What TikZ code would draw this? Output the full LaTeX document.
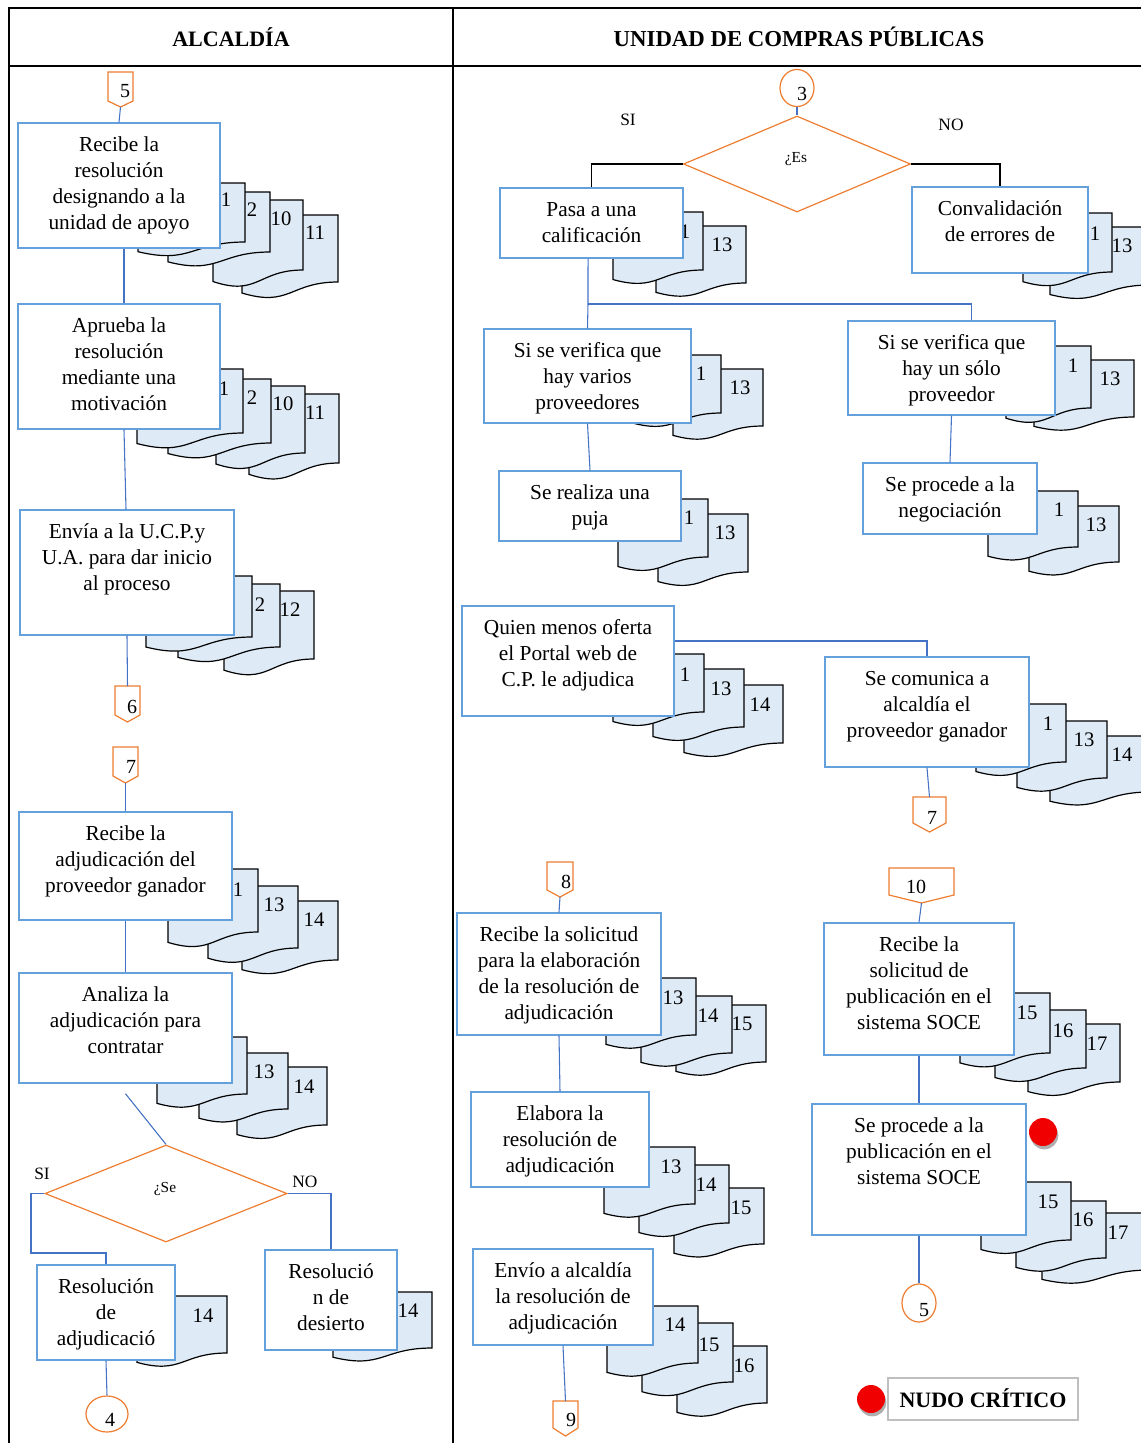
\documentclass[tikz,border=0pt]{standalone}
\usepackage{fontspec}
\setmainfont{Liberation Serif}
\usetikzlibrary{fit,shapes.geometric,shadows,calc}
\definecolor{boxblue}{RGB}{100,160,220}
\definecolor{lineblue}{RGB}{68,114,196}
\definecolor{orng}{RGB}{237,125,49}
\definecolor{docfill}{RGB}{222,234,246}
\definecolor{leggray}{RGB}{191,191,191}
\definecolor{dotred}{RGB}{240,0,0}
\newcounter{dcnt}
\tikzset{
  tbl/.style={line width=1.8pt, black},
  pbx/.style={draw=boxblue, fill=white, line width=1.1pt, inner sep=0pt},
  ptxt/.style={font=\fontsize{16}{19.5}\selectfont, align=center, inner sep=0pt},
  docst/.style={draw=black, fill=docfill, line width=0.9pt, line join=miter},
  dlab/.style={font=\fontsize{15.5}{18}\selectfont, inner sep=0pt},
  clab/.style={font=\fontsize{15}{18}\selectfont, inner sep=0pt},
  orl/.style={draw=orng, line width=0.9pt},
  conn/.style={draw=lineblue, line width=0.8pt},
  blk/.style={draw=black, line width=0.8pt},
  sino/.style={font=\fontsize{13}{15}\selectfont, inner sep=0pt},
  qtxt/.style={font=\fontsize{11.5}{13}\selectfont, inner sep=0pt},
  hdr/.style={font=\fontsize{16.5}{19}\selectfont\bfseries, inner sep=0pt},
  hdrb/.style={font=\fontsize{17.1}{19}\selectfont\bfseries, inner sep=0pt},
  reddot/.style={circle, fill=dotred, minimum size=21pt, inner sep=0pt,
    drop shadow={shadow xshift=1pt, shadow yshift=-2.5pt, opacity=0.45, fill=black!70}},
}
% document shape: x1, y1(top), x2, yR (right bottom), label x, label y, label
\newcommand\docu[7]{%
  \pgfmathsetmacro\dH{(#4-#2)/0.802}%
  \pgfmathsetmacro\dL{#2+0.934*\dH}%
  \pgfmathsetmacro\dC{#2+1.1075*\dH}%
  \pgfmathsetmacro\dM{(#1+#3)/2}%
  \draw[docst] (#1,#2) -- (#3,#2) -- (#3,#4) .. controls (\dM,#4) and (\dM,\dC) .. (#1,\dL) -- cycle;
  \stepcounter{dcnt}%
  \node[dlab] (doc\arabic{dcnt}) at (#5,#6) {#7};}
% process box: name, x1, y1, x2, y2, text
\newcommand\pbox[6]{%
  \node[pbx, fit={(#2,#3) (#4,#5)}] (#1) {};
  \node[ptxt, anchor=north] (#1t) at ({(#2+#4)/2},{#3+11}) {\rule{0pt}{12.8pt}#6};}
% off-page connector: name, cx, halfwidth, ytop, yside, ytip, label, lx, ly
\newcommand\offp[9]{%
  \draw[orl, fill=white] ({#2-#3},#4) -- ({#2+#3},#4) -- ({#2+#3},#5) -- (#2,#6) -- ({#2-#3},#5) -- cycle;
  \coordinate (#1-n) at (#2,#4);
  \coordinate (#1-s) at (#2,#6);
  \node[clab] (#1) at (#8,#9) {#7};}
\begin{document}
\begin{tikzpicture}[x=0.75pt,y=-0.75pt]
\useasboundingbox (0,0) rectangle (1141,1443);
% ---------- table ----------
\draw[tbl] (9,8) -- (1141,8);
\draw[tbl] (9,66) -- (1141,66);
\draw[tbl] (9,7) -- (9,1443);
\draw[tbl] (453,7) -- (453,1443);
\node[hdr] (h1) at (231,37) {ALCALDÍA};
\node[hdrb] (h2) at (799,37) {UNIDAD DE COMPRAS PÚBLICAS};

% ---------- documents (back to front) ----------
% A
\docu{242}{215}{338}{282}{315}{233}{11}
\docu{213}{200}{303}{270}{281}{219}{10}
\docu{168}{192}{270}{252}{252}{210}{2}
\docu{138}{183}{245}{242}{226}{200}{1}
% B
\docu{249}{394}{339}{463}{315}{413}{11}
\docu{216}{386}{305}{453}{283}{404}{10}
\docu{168}{379}{271}{443}{252}{398}{2}
\docu{137}{369}{243}{433}{224}{389}{1}
% C
\docu{224}{591}{314}{659}{290}{610}{12}
\docu{178}{584}{280}{647}{260}{605}{2}
\docu{146}{576}{252}{637}{230}{595}{1}
% D
\docu{242}{901}{338}{960}{314}{920}{14}
\docu{208}{886}{298}{948}{274}{905}{13}
\docu{168}{869}{258}{932}{238}{890}{1}
% E
\docu{237}{1067}{327}{1125}{304}{1087}{14}
\docu{199}{1053}{288}{1109}{264}{1072}{13}
\docu{157}{1037}{247}{1094}{220}{1060}{1}
% F, G
\docu{137}{1296}{227}{1353}{203}{1316}{14}
\docu{333}{1292}{432}{1348}{408}{1311}{14}
% H
\docu{656}{226}{746}{283}{722}{245}{13}
\docu{613}{212}{703}{270}{685}{232}{1}
% I
\docu{1050}{227}{1150}{285}{1122}{246}{13}
\docu{1023}{213}{1112}{272}{1095}{234}{1}
% J
\docu{673}{369}{763}{426}{740}{388}{13}
\docu{631}{355}{721}{413}{701}{374}{1}
% K
\docu{658}{514}{748}{572}{725}{533}{13}
\docu{618}{499}{708}{557}{689}{518}{1}
% L
\docu{1034}{360}{1134}{417}{1110}{379}{13}
\docu{1006}{346}{1091}{408}{1073}{366}{1}
% M
\docu{1029}{506}{1119}{562}{1096}{525}{13}
\docu{988}{491}{1078}{547}{1059}{510}{1}
% N
\docu{684}{685}{783}{743}{760}{705}{14}
\docu{653}{669}{744}{727}{721}{689}{13}
\docu{613}{654}{704}{712}{685}{675}{1}
% O
\docu{1050}{736}{1150}{792}{1122}{755}{14}
\docu{1017}{721}{1107}{778}{1084}{740}{13}
\docu{976}{704}{1066}{762}{1048}{724}{1}
% P
\docu{676}{1005}{766}{1062}{742}{1024}{15}
\docu{641}{996}{732}{1053}{708}{1016}{14}
\docu{606}{978}{696}{1035}{673}{998}{13}
% Q
\docu{674}{1188}{764}{1244}{741}{1208}{15}
\docu{639}{1165}{729}{1223}{706}{1185}{14}
\docu{604}{1147}{695}{1204}{671}{1167}{13}
% R
\docu{677}{1346}{767}{1403}{744}{1366}{16}
\docu{642}{1323}{733}{1382}{709}{1345}{15}
\docu{607}{1306}{698}{1363}{675}{1325}{14}
% S
\docu{1028}{1024}{1120}{1082}{1097}{1044}{17}
\docu{995}{1010}{1086}{1068}{1063}{1031}{16}
\docu{960}{993}{1050}{1053}{1027}{1013}{15}
% T
\docu{1042}{1213}{1150}{1270}{1118}{1233}{17}
\docu{1016}{1201}{1106}{1258}{1083}{1220}{16}
\docu{981}{1182}{1071}{1240}{1048}{1202}{15}

% ---------- process boxes ----------
\pbox{b1}{18}{123}{220}{248}{Recibe la\\resolución\\designando a la\\unidad de apoyo}
\pbox{b2}{18}{304}{220}{429}{Aprueba la\\resolución\\mediante una\\motivación}
\pbox{b3}{20}{510}{234}{635}{Envía a la U.C.P.y\\U.A. para dar inicio\\al proceso}
\pbox{b4}{19}{812}{232}{920}{Recibe la\\adjudicación del\\proveedor ganador}
\pbox{b5}{19}{973}{232}{1083}{Analiza la\\adjudicación para\\contratar}
\pbox{b6}{37}{1265}{175}{1360}{Resolución\\de\\adjudicació}
\pbox{b7}{265}{1250}{397}{1350}{Resolució\\n de\\desierto}
\pbox{b8}{500}{188}{683}{258}{Pasa a una\\calificación}
\pbox{b9}{912}{187}{1088}{273}{Convalidación\\de errores de}
\pbox{b10}{484}{329}{691}{423}{Si se verifica que\\hay varios\\proveedores}
\pbox{b11}{848}{321}{1055}{415}{Si se verifica que\\hay un sólo\\proveedor}
\pbox{b12}{499}{471}{681}{541}{Se realiza una\\puja}
\pbox{b13}{863}{463}{1037}{534}{Se procede a la\\negociación}
\pbox{b14}{462}{606}{674}{716}{Quien menos oferta\\el Portal web de\\C.P. le adjudica}
\pbox{b15}{825}{657}{1029}{767}{Se comunica a\\alcaldía el\\proveedor ganador}
\pbox{b16}{457}{913}{661}{1035}{Recibe la solicitud\\para la elaboración\\de la resolución de\\adjudicación}
\pbox{b17}{471}{1092}{649}{1187}{Elabora la\\resolución de\\adjudicación}
\pbox{b18}{473}{1249}{653}{1345}{Envío a alcaldía\\la resolución de\\adjudicación}
\pbox{b19}{824}{923}{1014}{1055}{Recibe la\\solicitud de\\publicación en el\\sistema SOCE}
\pbox{b20}{812}{1104}{1026}{1235}{Se procede a la\\publicación en el\\sistema SOCE}

% ---------- connectors (off-page, circles, diamonds) ----------
\offp{p5}{120.5}{12.5}{72}{101}{107}{5}{125}{91}
\offp{p6}{127.5}{12.5}{686}{715}{722}{6}{132}{707}
\offp{p7a}{125.5}{12.5}{747}{776}{783}{7}{131}{767}
\offp{p7b}{929.5}{16.5}{797}{823}{832}{7}{932}{818}
\offp{p8}{560}{13}{862}{890}{897}{8}{566}{882}
\offp{p9}{565.5}{12.5}{1401}{1428}{1436}{9}{571}{1420}
\offp{p10}{921.5}{32.5}{868}{895}{903}{10}{916}{887}

\node[orl, ellipse, minimum width=25.5pt, minimum height=27.75pt, inner sep=0pt] (c3) at (797,88) {};
\node[clab] (c3t) at (802,94) {3};
\node[orl, ellipse, minimum width=31.5pt, minimum height=27pt, inner sep=0pt] (c4) at (107,1414) {};
\node[clab] (c4t) at (110,1420) {4};
\node[orl, ellipse, minimum width=25.5pt, minimum height=28.5pt, inner sep=0pt] (c5) at (919,1303) {};
\node[clab] (c5t) at (924,1310) {5};

\node[orl, diamond, minimum width=170.25pt, minimum height=72pt, inner sep=0pt] (d1) at (797,164) {};
\node[qtxt] (d1t) at (796,159) {¿Es};
\node[orl, diamond, minimum width=181.5pt, minimum height=72.75pt, inner sep=0pt] (d2) at (166,1193.5) {};
\node[qtxt] (d2t) at (165,1189) {¿Se};

\node[sino] (si1) at (628,120) {SI};
\node[sino] (no1) at (951,125) {NO};
\node[sino] (si2) at (42,1174) {SI};
\node[sino] (no2) at (305,1182) {NO};

% ---------- connector lines ----------
\draw[conn] (p5-s) -- (b1.north);
\draw[conn] ([xshift=3.75pt]b1.south) -- ([xshift=3.75pt]b2.north);
\draw[conn] ([xshift=3.75pt]b2.south) -- ([xshift=-0.75pt]b3.north);
\draw[conn] (b3.south) -- (p6-n);
\draw[conn] (p7a-s) -- (b4.north);
\draw[conn] (b4.south) -- (b5.north);
\draw[conn] ([yshift=-7.5pt]b5.south) -- (d2.north);
\draw[conn] (d2.west) -- (31,1193.5) -- (31,1253) -| (b6.north);
\draw[conn] (d2.east) -| (b7.north);
\draw[conn] (b6.south) -- (c4.north);

\draw[conn] (c3.south) -- (d1.north);
\draw[blk] (d1.west) -| (b8.north);
\draw[blk] (d1.east) -| (b9.north);
\coordinate (j1) at (588,304);
\draw[conn] ([xshift=-2.6pt]b8.south) -- (j1) -- (b10.north);
\draw[conn] (j1) -| ([xshift=15pt]b11.north);
\draw[conn] (b10.south) -- (b12.north);
\draw[conn] (b11.south) -- (b13.north);
\draw[conn] ([yshift=15pt]b14.east) -| (b15.north);
\draw[conn] (b15.south) -- (p7b-n);
\draw[conn] (p8-s) -- (b16.north);
\draw[conn] (b16.south) -- (b17.north);
\draw[conn] (b18.south) -- (p9-n);
\draw[conn] (p10-s) -- (b19.north);
\draw[conn] (b19.south) -- (b20.north);
\draw[conn] (b20.south) -- (c5.north);

% ---------- critical node marks ----------
\node[reddot] (r1) at (1043,1132) {};
\node[draw=leggray, line width=1.1pt, inner sep=0pt, fit={(888,1378) (1078,1420)}] (leg) {};
\node[hdr] (legt) at (983,1398) {NUDO CRÍTICO};
\node[reddot] (r2) at (871,1399) {};
\end{tikzpicture}
\end{document}
